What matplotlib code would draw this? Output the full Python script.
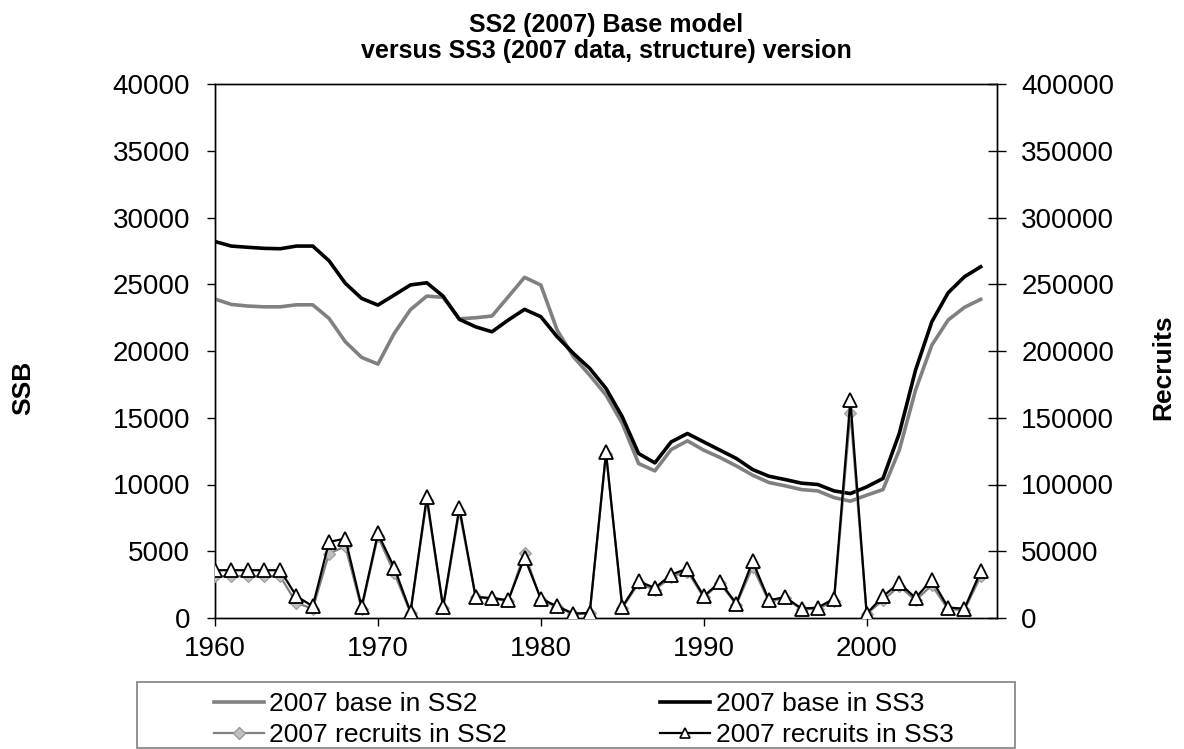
import matplotlib
matplotlib.use("Agg")
import matplotlib.pyplot as plt
from matplotlib.lines import Line2D
from matplotlib.patches import Rectangle

plt.rcParams['font.family'] = ['Liberation Sans', 'DejaVu Sans']

years = list(range(1960, 2008))

ssb_ss2 = [23890, 23490, 23370, 23310, 23310, 23460, 23460, 22440, 20690, 19520,
           19020, 21320, 23100, 24110, 24020, 22410, 22490, 22620, 24060, 25520,
           24940, 21570, 19570, 18190, 16700, 14570, 11570, 11020, 12620, 13270,
           12570, 12020, 11390, 10700, 10150, 9900, 9620, 9520, 9020, 8750,
           9200, 9620, 12570, 17070, 20440, 22320, 23270, 23870]

ssb_ss3 = [28200, 27860, 27770, 27690, 27660, 27860, 27860, 26760, 25070, 23940,
           23440, 24190, 24950, 25110, 24110, 22370, 21810, 21440, 22320, 23120,
           22570, 21070, 19820, 18700, 17200, 15070, 12320, 11620, 13190, 13820,
           13190, 12570, 11950, 11120, 10620, 10370, 10100, 10000, 9520, 9320,
           9820, 10450, 13820, 18570, 22190, 24360, 25560, 26310]

rec_ss2 = [31300, 31300, 31300, 31300, 31300, 11200, 7000, 48300, 53700, 7000,
           61200, 33700, 4000, 88200, 7500, 80000, 15500, 14500, 12800, 48700,
           13500, 8000, 3000, 3500, 123000, 7500, 26000, 21000, 31000, 34800,
           15500, 26000, 10000, 38200, 12500, 15000, 6500, 7000, 12500, 153700,
           3000, 13300, 23800, 13300, 24500, 6500, 6000, 31300]

rec_ss3 = [35800, 35800, 35800, 35800, 35800, 16300, 8800, 57000, 59500, 8300,
           63300, 37800, 4500, 90700, 8300, 82700, 15700, 15000, 13300, 45300,
           14500, 8800, 3300, 3800, 124000, 8300, 27500, 22500, 32500, 37000,
           16300, 27000, 10800, 42500, 13300, 15700, 7000, 7800, 14500, 163200,
           3300, 16300, 26200, 15000, 28800, 7800, 7000, 35000]

labels = ["2007 base in SS2", "2007 recruits in SS2",
          "2007 base in SS3", "2007 recruits in SS3"]
title = "SS2 (2007) Base model\nversus SS3 (2007 data, structure) version"

W, H = 1184, 749
fig = plt.figure(figsize=(W / 100, H / 100), dpi=100)
ax = fig.add_axes([215 / W, 1 - 618 / H, (997 - 215) / W, (618 - 84) / H])
ax2 = ax.twinx()

GRAY = "#808080"
ax.plot(years, ssb_ss2, color=GRAY, lw=2.6, zorder=3)
ax.plot(years, ssb_ss3, color="black", lw=2.6, zorder=4)

ax2.plot(years, rec_ss2, color=GRAY, lw=1.6, marker='D', markersize=6,
         markerfacecolor="#c0c0c0", markeredgecolor="#999999", markeredgewidth=0.8, zorder=3)
ax2.plot(years, rec_ss3, color="black", lw=1.6, marker='^', markersize=10.5,
         markerfacecolor="white", markeredgecolor="black", markeredgewidth=1.3, zorder=4)

ax.set_xlim(1960, 2008)
ax.set_ylim(0, 40000)
ax2.set_ylim(0, 400000)
ax.set_xticks([1960, 1970, 1980, 1990, 2000])
ax.set_yticks(range(0, 40001, 5000))
ax2.set_yticks(range(0, 400001, 50000))

ax.tick_params(axis='x', direction='out', length=6, width=1, labelsize=20, pad=7)
ax.tick_params(axis='y', direction='out', length=6, width=1, labelsize=20, pad=12)
ax2.tick_params(axis='y', direction='inout', length=13, width=1, labelsize=20, pad=11)

for a in (ax, ax2):
    for s in a.spines.values():
        s.set_linewidth(1.0)
        s.set_color("black")

ax.set_title(title, fontsize=18, fontweight='bold', pad=19, linespacing=1.06)
fig.text(23 / W, 1 - 388 / H, "SSB", rotation=90, fontsize=19, fontweight='bold',
         ha='center', va='center')
fig.text(1163 / W, 1 - 367 / H, "Recruits", rotation=90, fontsize=19, fontweight='bold',
         ha='center', va='center')

handles = [
    Line2D([], [], color=GRAY, lw=2.6),
    Line2D([], [], color=GRAY, lw=1.6, marker='D', markersize=6,
           markerfacecolor="#c0c0c0", markeredgecolor="#999999"),
    Line2D([], [], color="black", lw=2.6),
    Line2D([], [], color="black", lw=1.6, marker='^', markersize=7,
           markerfacecolor="white", markeredgecolor="black", markeredgewidth=1.2),
]
fig.patches.append(Rectangle((137 / W, 1 - 748 / H), (1015 - 137) / W, (748 - 682) / H,
                             transform=fig.transFigure, fill=False,
                             edgecolor=GRAY, lw=1.2))
leg = fig.legend(handles, labels, ncol=2, loc='upper left',
                 bbox_to_anchor=(214 / W, 1 - 692 / H),
                 fontsize=19, frameon=False, handlelength=1.9, handletextpad=0.2,
                 borderpad=0, labelspacing=0.27, borderaxespad=0,
                 columnspacing=5.8)

fig.savefig("out.png", dpi=100)
